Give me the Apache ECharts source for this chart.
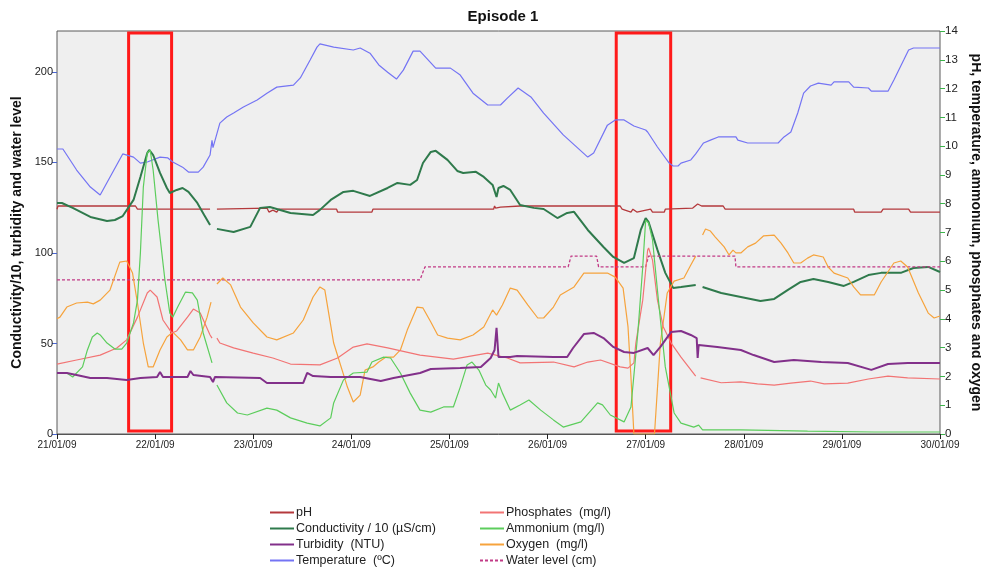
<!DOCTYPE html>
<html>
<head>
<meta charset="utf-8">
<title>Episode 1</title>
<script src="https://cdn.jsdelivr.net/npm/echarts@6/dist/echarts.min.js"></script>
<style>
  html, body { margin: 0; padding: 0; background: #fff; }
  #chart { width: 981px; height: 572px; }
</style>
</head>
<body>
<div id="chart"></div>
<script>
// Time axis is in days since 21/01/09 00:00; tick labels are the dates.
const dayLabels = ['21/01/09', '22/01/09', '23/01/09', '24/01/09', '25/01/09',
                   '26/01/09', '27/01/09', '28/01/09', '29/01/09', '30/01/09'];

const leftTicks = [0, 50, 100, 150, 200];

// Left axis series: [day, value]; null breaks the line where readings are missing.
const conductivityData = [
  [0.00,127.6],[0.05,127.6],[0.16,124.9],[0.34,119.9],[0.51,117.7],[0.59,118.2],[0.67,120.4],
  [0.78,129.3],[0.85,142.0],[0.92,155.2],[0.94,156.9],[0.98,154.1],[1.05,144.2],[1.12,135.9],
  [1.15,133.1],[1.22,134.8],[1.28,135.9],[1.34,133.7],[1.43,127.6],[1.50,121.0],[1.56,115.5],
  [1.60,null],
  [1.63,113.3],[1.80,111.6],[1.97,114.4],[2.07,124.9],[2.17,125.4],[2.38,122.1],[2.61,121.0],
  [2.68,123.8],[2.79,129.3],[2.92,133.7],[3.02,134.3],[3.19,131.5],[3.37,135.9],[3.47,138.7],
  [3.60,137.6],[3.67,140.3],[3.73,149.7],[3.81,155.8],[3.86,156.4],[3.98,151.4],[4.08,145.3],
  [4.14,144.2],[4.27,144.8],[4.35,142.0],[4.44,137.6],[4.48,130.9],[4.50,135.9],[4.55,137.0],
  [4.62,134.8],[4.72,126.5],[4.86,124.9],[4.96,124.3],[5.10,119.3],[5.20,122.1],[5.27,122.7],
  [5.41,112.7],[5.57,103.3],[5.67,97.8],[5.78,94.5],[5.88,97.2],[5.95,112.7],[6.00,119.3],
  [6.03,117.1],[6.12,101.7],[6.20,89.0],[6.28,80.7],[6.36,81.2],[6.51,82.3],
  [6.54,null],
  [6.58,81.2],[6.77,77.9],[6.97,75.7],[7.17,73.5],[7.31,74.6],[7.45,79.6],[7.58,84.0],
  [7.71,85.6],[7.86,84.0],[8.02,81.8],[8.12,84.0],[8.27,87.8],[8.40,89.0],[8.60,89.0],
  [8.73,91.7],[8.88,92.3],[9.00,89.5]
];

const turbidityData = [
  [0.00,33.7],[0.10,33.7],[0.20,32.6],[0.34,30.9],[0.51,30.9],[0.71,29.8],[0.85,30.9],
  [1.02,31.5],[1.05,34.3],[1.08,31.5],[1.33,31.5],[1.36,34.8],[1.39,32.6],[1.56,31.5],
  [1.59,28.7],[1.61,31.5],[2.07,30.9],[2.14,28.2],[2.51,28.2],[2.55,33.7],[2.61,32.0],
  [2.79,31.5],[3.09,31.5],[3.30,29.3],[3.43,30.9],[3.70,33.7],[3.81,35.9],[4.11,36.5],
  [4.32,37.0],[4.42,42.0],[4.46,46.4],[4.48,58.6],[4.50,42.5],[4.62,42.5],[4.69,43.1],
  [5.06,42.5],[5.20,42.5],[5.26,47.5],[5.37,55.2],[5.47,55.8],[5.57,53.0],[5.67,48.1],
  [5.78,45.3],[5.88,44.8],[6.02,47.5],[6.08,43.6],[6.15,48.1],[6.26,56.4],[6.36,56.9],
  [6.46,54.7],[6.52,53.0],[6.53,42.0],[6.54,49.2],[6.73,48.1],[6.97,46.4],[7.10,43.6],
  [7.31,39.8],[7.51,40.9],[7.79,39.8],[8.06,39.2],[8.30,35.4],[8.47,38.7],[8.67,39.2],
  [9.00,39.2]
];

const waterLevelData = [
  [0.00,85.1],[3.70,85.1],[3.75,92.3],[5.21,92.3],[5.24,98.3],[5.50,98.3],[5.52,92.3],
  [6.00,92.3],[6.03,98.3],[6.91,98.3],[6.92,92.3],[9.00,92.3]
];

// Right axis series.
const phData = [
  [0.00,7.81],[0.01,7.92],[0.80,7.92],[0.82,7.81],[1.56,7.81],
  [1.60,null],
  [1.63,7.81],[2.14,7.85],[2.16,7.71],[2.20,7.78],[2.24,7.71],[2.26,7.81],[2.85,7.81],
  [2.86,7.71],[3.21,7.71],[3.22,7.81],[4.45,7.81],[4.46,7.92],[4.47,7.85],[4.52,7.88],
  [4.72,7.92],[5.74,7.92],[5.76,7.81],[5.85,7.71],[5.87,7.81],[5.91,7.71],[6.05,7.81],
  [6.07,7.71],[6.19,7.71],[6.20,7.81],[6.48,7.85],[6.53,7.99],[6.57,7.92],[6.79,7.92],
  [6.81,7.81],[8.12,7.81],[8.13,7.71],[8.40,7.71],[8.42,7.81],[8.68,7.81],[8.70,7.71],
  [9.00,7.71]
];

const temperatureData = [
  [0.00,9.90],[0.06,9.90],[0.20,9.17],[0.34,8.58],[0.44,8.30],[0.67,9.73],[0.78,9.62],
  [0.85,9.41],[0.92,9.45],[1.05,9.62],[1.13,9.59],[1.18,9.45],[1.28,9.27],[1.34,9.10],
  [1.44,9.10],[1.49,9.27],[1.56,9.69],[1.58,10.20],[1.59,9.95],[1.66,10.80],[1.73,11.01],
  [1.80,11.15],[1.90,11.36],[2.04,11.60],[2.14,11.84],[2.24,12.05],[2.41,12.12],[2.48,12.37],
  [2.58,12.99],[2.65,13.44],[2.68,13.55],[2.82,13.44],[3.02,13.34],[3.09,13.41],[3.19,13.23],
  [3.28,12.82],[3.37,12.57],[3.46,12.33],[3.53,12.64],[3.63,13.30],[3.70,13.30],[3.86,12.71],
  [4.01,12.71],[4.11,12.47],[4.24,11.84],[4.39,11.43],[4.52,11.43],[4.59,11.67],[4.70,12.02],
  [4.83,11.71],[4.96,11.15],[5.16,10.39],[5.41,9.62],[5.47,9.76],[5.61,10.73],[5.69,10.91],
  [5.78,10.91],[5.88,10.70],[6.00,10.56],[6.02,10.49],[6.12,9.97],[6.24,9.41],[6.28,9.31],
  [6.33,9.31],[6.36,9.41],[6.46,9.52],[6.51,9.73],[6.56,9.97],[6.59,10.11],[6.66,10.21],
  [6.74,10.32],[6.92,10.32],[6.94,10.21],[7.04,10.11],[7.35,10.11],[7.41,10.32],[7.48,10.49],
  [7.55,11.15],[7.61,11.84],[7.68,12.09],[7.76,12.19],[7.77,12.23],[7.89,12.12],[7.92,12.23],
  [8.07,12.23],[8.12,12.05],[8.27,12.02],[8.30,11.91],[8.47,11.91],[8.53,12.30],[8.63,12.99],
  [8.68,13.34],[8.73,13.41],[9.00,13.41]
];

const phosphatesData = [
  [0.00,2.43],[0.20,2.57],[0.44,2.74],[0.61,2.99],[0.71,3.27],[0.82,4.06],[0.92,4.90],
  [0.95,5.00],[1.02,4.76],[1.08,3.96],[1.17,3.51],[1.22,3.58],[1.33,4.06],[1.39,4.34],
  [1.46,4.20],[1.56,3.44],[1.58,3.33],
  [1.60,null],
  [1.63,3.33],[1.66,3.16],[1.80,2.99],[2.00,2.81],[2.20,2.64],[2.38,2.43],[2.68,2.40],
  [2.86,2.64],[3.02,3.02],[3.16,3.13],[3.37,2.99],[3.70,2.74],[4.04,2.60],[4.39,2.81],
  [4.59,2.64],[4.72,2.47],[5.06,2.50],[5.27,2.33],[5.41,2.50],[5.54,2.57],[5.74,2.33],
  [5.82,2.29],[5.88,2.47],[5.90,3.16],[5.97,4.65],[6.02,6.39],[6.03,6.46],[6.07,6.04],
  [6.12,4.65],[6.18,3.72],[6.26,3.16],[6.36,2.67],[6.51,2.01],
  [6.54,null],
  [6.56,1.95],[6.77,1.78],[6.97,1.81],[7.14,1.74],[7.31,1.70],[7.48,1.77],[7.68,1.84],
  [7.82,1.74],[8.06,1.77],[8.27,1.91],[8.47,2.01],[8.67,1.95],[9.00,1.91]
];

const ammoniumData = [
  [0.00,2.12],[0.10,2.12],[0.16,1.98],[0.26,2.33],[0.31,2.92],[0.36,3.37],[0.41,3.51],
  [0.44,3.44],[0.51,3.16],[0.59,2.95],[0.66,2.95],[0.71,3.16],[0.78,3.86],[0.82,4.65],
  [0.85,6.29],[0.88,8.58],[0.92,9.76],[0.95,9.86],[0.98,9.17],[1.03,7.43],[1.10,5.35],
  [1.15,4.20],[1.18,4.06],[1.23,4.41],[1.31,4.93],[1.38,4.90],[1.43,4.65],[1.49,3.51],
  [1.58,2.47],
  [1.60,null],
  [1.63,1.70],[1.73,1.08],[1.84,0.73],[1.94,0.66],[2.14,0.90],[2.24,0.83],[2.38,0.56],
  [2.55,0.38],[2.68,0.28],[2.79,0.56],[2.82,1.08],[2.92,1.88],[3.02,2.12],[3.16,2.15],
  [3.21,2.50],[3.33,2.67],[3.40,2.64],[3.50,2.12],[3.60,1.42],[3.70,0.83],[3.81,0.76],
  [3.94,0.94],[4.04,0.94],[4.11,1.63],[4.18,2.40],[4.23,2.50],[4.30,2.22],[4.37,1.70],
  [4.42,1.53],[4.47,1.25],[4.50,1.77],[4.54,1.42],[4.62,0.83],[4.72,1.01],[4.81,1.18],
  [4.93,0.83],[5.06,0.49],[5.16,0.24],[5.34,0.42],[5.51,1.08],[5.56,1.01],[5.64,0.66],
  [5.78,0.42],[5.85,0.94],[5.92,3.51],[5.97,5.80],[6.00,7.43],[6.03,7.33],[6.07,6.74],
  [6.13,4.65],[6.20,2.33],[6.29,0.73],[6.36,0.38],[6.49,0.24],[6.54,0.31],[6.58,0.14],
  [6.97,0.14],[7.65,0.10],[8.33,0.07],[9.00,0.07]
];

const oxygenData = [
  [0.00,4.00],[0.03,4.06],[0.10,4.41],[0.20,4.55],[0.31,4.58],[0.37,4.52],[0.44,4.65],
  [0.54,5.00],[0.64,5.97],[0.71,6.01],[0.77,5.59],[0.82,4.55],[0.88,3.16],[0.93,2.33],
  [0.98,2.33],[1.05,2.92],[1.12,3.37],[1.18,3.54],[1.26,3.27],[1.33,2.92],[1.39,2.92],
  [1.46,3.37],[1.53,4.06],[1.57,4.58],
  [1.60,null],
  [1.63,5.21],[1.69,5.42],[1.77,5.18],[1.87,4.41],[2.00,3.86],[2.14,3.37],[2.24,3.27],
  [2.41,3.51],[2.51,3.96],[2.61,4.76],[2.68,5.11],[2.73,5.00],[2.82,3.16],[2.96,1.63],
  [3.02,1.11],[3.09,1.35],[3.14,2.22],[3.22,2.33],[3.28,2.50],[3.35,2.67],[3.43,2.67],
  [3.50,2.92],[3.57,3.61],[3.67,4.41],[3.73,4.38],[3.81,3.89],[3.88,3.44],[3.98,3.33],
  [4.11,3.27],[4.24,3.44],[4.35,3.72],[4.44,4.31],[4.48,4.13],[4.54,4.48],[4.62,5.07],
  [4.69,5.00],[4.80,4.48],[4.90,4.03],[4.96,4.03],[5.06,4.41],[5.13,4.83],[5.27,5.11],
  [5.37,5.59],[5.47,5.59],[5.61,5.59],[5.69,5.45],[5.77,5.07],[5.82,3.72],[5.85,1.98],
  [5.88,0.00],[6.09,0.00],[6.15,3.16],[6.22,4.90],[6.29,5.31],[6.39,5.42],[6.46,5.87],
  [6.51,6.18],
  [6.54,null],
  [6.58,6.91],[6.61,7.12],[6.66,7.05],[6.71,6.84],[6.80,6.50],[6.85,6.22],[6.89,6.39],
  [6.92,6.29],[6.97,6.29],[7.04,6.50],[7.12,6.63],[7.20,6.88],[7.31,6.91],[7.38,6.63],
  [7.45,6.29],[7.51,5.94],[7.58,5.94],[7.65,6.11],[7.71,6.22],[7.81,6.15],[7.86,5.80],
  [7.92,5.59],[8.06,5.42],[8.12,5.11],[8.19,4.83],[8.33,4.83],[8.40,5.28],[8.53,5.94],
  [8.60,6.01],[8.67,5.80],[8.78,4.90],[8.88,4.20],[8.94,4.03],[9.00,4.10]
];

// Highlighted episode windows: [startDay, endDay] on the right-axis span [bottom, top].
const episodeWindows = [[0.73, 1.168], [5.70, 6.255]];
const windowSpan = [0.10, 13.93];

const FONT = '"Liberation Sans", Arial, sans-serif';

function lineSeries(name, data, color, width, yAxisIndex, extra) {
  return Object.assign({
    name: name,
    type: 'line',
    data: data,
    yAxisIndex: yAxisIndex,
    symbol: 'none',
    showSymbol: false,
    connectNulls: false,
    lineStyle: { color: color, width: width },
    itemStyle: { color: color },
    emphasis: { disabled: true },
    silent: true
  }, extra || {});
}

const chart = echarts.init(document.getElementById('chart'), null, { renderer: 'canvas' });

const legendBase = {
  orient: 'vertical',
  itemWidth: 24,
  itemHeight: 12,
  itemGap: 3,
  height: 66,
  padding: 0,
  itemStyle: { opacity: 0 },
  textStyle: { fontFamily: FONT, fontSize: 12.5, lineHeight: 12, color: '#222', padding: [0, 0, 0, -3] },
  selectedMode: false
};

chart.setOption({
  animation: false,
  backgroundColor: '#ffffff',
  title: {
    text: 'Episode 1',
    left: 498,
    top: 4,
    textAlign: 'center',
    textStyle: { fontFamily: FONT, fontSize: 15, fontWeight: 'bold', color: '#111' }
  },
  legend: [
    Object.assign({}, legendBase, {
      left: 269, top: 506,
      data: ['pH', 'Conductivity / 10 (µS/cm)', 'Turbidity  (NTU)', 'Temperature  (ºC)']
    }),
    Object.assign({}, legendBase, {
      left: 479, top: 506,
      data: ['Phosphates  (mg/l)', 'Ammonium (mg/l)', 'Oxygen  (mg/l)', 'Water level (cm)']
    })
  ],
  grid: {
    left: 57, right: 41, top: 31, bottom: 138,
    containLabel: false,
    outerBoundsMode: 'none',
    show: true,
    backgroundColor: '#efefef',
    borderColor: '#5a5a5a',
    borderWidth: 1
  },
  xAxis: {
    type: 'value',
    min: 0, max: 9, interval: 1,
    axisLine: { show: true, lineStyle: { color: '#555', width: 1 } },
    axisTick: { show: true, length: 5, lineStyle: { color: '#222' } },
    splitLine: { show: false },
    axisLabel: {
      margin: 6,
      fontFamily: '"Liberation Sans Narrow", "Liberation Sans", Arial, sans-serif',
      fontSize: 10,
      color: '#222',
      formatter: function (v) { return dayLabels[Math.round(v)]; }
    }
  },
  yAxis: [
    {
      type: 'value',
      position: 'left',
      min: 0, max: 222.6,
      axisLine: { show: false },
      axisTick: { show: true, length: 5, customValues: leftTicks, lineStyle: { color: '#4a66d0' } },
      axisLabel: { customValues: leftTicks, fontFamily: FONT, fontSize: 11, color: '#222', margin: 4 },
      splitLine: { show: false },
      name: 'Conductivity/10, turbidity and water level',
      nameLocation: 'middle',
      nameGap: 30,
      nameTextStyle: { fontFamily: FONT, fontSize: 14, fontWeight: 'bold', color: '#111' }
    },
    {
      type: 'value',
      position: 'right',
      min: 0, max: 14, interval: 1,
      axisLine: { show: false },
      axisTick: { show: true, length: 5, lineStyle: { color: '#3cb44b' } },
      axisLabel: { fontFamily: FONT, fontSize: 11.5, color: '#222', margin: 5 },
      splitLine: { show: false },
      name: 'pH, temperature, ammonium, phosphates and oxygen',
      nameLocation: 'middle',
      nameRotate: -90,
      nameGap: 19,
      nameTextStyle: { fontFamily: FONT, fontSize: 14, fontWeight: 'bold', color: '#111' }
    }
  ],
  series: [
    lineSeries('Temperature  (ºC)', temperatureData, '#7474f4', 1.2, 1),
    lineSeries('pH', phData, '#b4393c', 1.3, 1),
    lineSeries('Conductivity / 10 (µS/cm)', conductivityData, '#2f7a4c', 2, 0),
    lineSeries('Water level (cm)', waterLevelData, '#c23a86', 1.3, 0, {
      lineStyle: { color: '#c23a86', width: 1.3, type: [3, 2] }
    }),
    lineSeries('Oxygen  (mg/l)', oxygenData, '#f6a33c', 1.2, 1),
    lineSeries('Phosphates  (mg/l)', phosphatesData, '#f27474', 1.2, 1),
    lineSeries('Ammonium (mg/l)', ammoniumData, '#5ccd5c', 1.2, 1),
    lineSeries('Turbidity  (NTU)', turbidityData, '#82308a', 2, 0),
    {
      name: 'episodeWindows',
      type: 'line',
      yAxisIndex: 1,
      data: [],
      symbol: 'none',
      silent: true,
      z: 5,
      markArea: {
        silent: true,
        label: { show: false },
        itemStyle: { color: 'rgba(0,0,0,0)', borderColor: '#ff1a1a', borderWidth: 3 },
        emphasis: { disabled: true },
        data: episodeWindows.map(function (w) {
          return [{ coord: [w[0], windowSpan[1]] }, { coord: [w[1], windowSpan[0]] }];
        })
      }
    }
  ]
});
</script>
</body>
</html>
